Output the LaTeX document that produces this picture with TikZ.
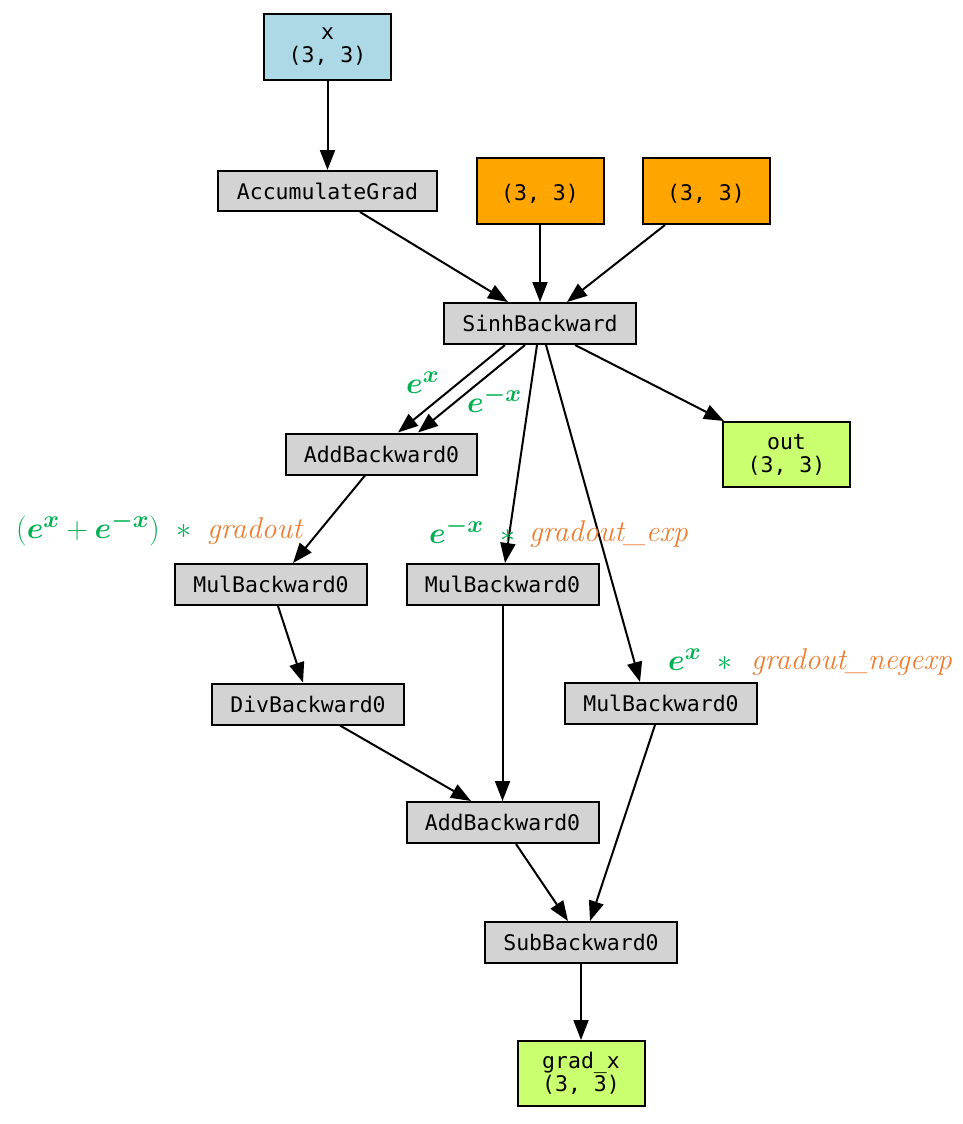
\RequirePackage{fix-cm}
\documentclass[tikz,border=0pt]{standalone}
\usepackage{fontspec}
\setmonofont{DejaVu Sans Mono}
\usepackage{amsmath}
\usepackage{bm}
\DeclareMathSizes{30}{30}{24}{18}
\usetikzlibrary{arrows.meta}
\definecolor{leafblue}{HTML}{ADD8E6}
\definecolor{constorange}{HTML}{FFA500}
\definecolor{fngray}{HTML}{D3D3D3}
\definecolor{outgreen}{HTML}{CAFF70}
\definecolor{lblgreen}{RGB}{0,176,80}
\definecolor{lblorange}{RGB}{237,125,49}
\tikzset{
  fnbox/.style={draw=black, line width=2pt, fill=fngray, inner sep=0pt,
    minimum width=192pt, minimum height=41pt, align=center,
    font=\ttfamily\fontsize{21.5}{23}\selectfont},
  tensorbox/.style={fnbox, minimum width=127pt, minimum height=65pt},
  edge/.style={line width=2pt, -{Triangle[length=20pt,width=15pt]}},
  mathlbl/.style={inner sep=0pt, anchor=base west, text=lblgreen,
    font=\fontsize{30}{32}\selectfont},
  gradlbl/.style={inner sep=0pt, anchor=base west, text=lblorange,
    font=\fontsize{30}{32}\selectfont\itshape},
}
\begin{document}
\begin{tikzpicture}[x=1pt,y=-1pt]
\useasboundingbox (0,0) rectangle (963,1124);

% tensors
\node[tensorbox, fill=leafblue] (x) at (327.5,47) {x\\(3, 3)};
\node[tensorbox, fill=constorange, minimum height=66pt] (c1) at (540,191) {\mbox{}\\(3, 3)};
\node[tensorbox, fill=constorange, minimum height=66pt] (c2) at (706,191) {\mbox{}\\(3, 3)};
\node[tensorbox, fill=outgreen] (out) at (786.5,454.5) {out\\(3, 3)};
\node[tensorbox, fill=outgreen] (gx) at (581,1073.5) {grad\_x\\(3, 3)};

% autograd functions
\node[fnbox, minimum width=219pt, minimum height=40pt] (acc) at (327.5,191) {AccumulateGrad};
\node[fnbox] (sinh) at (540,323.5) {SinhBackward};
\node[fnbox, minimum width=191pt] (addA) at (381.5,454) {AddBackward0};
\node[fnbox] (mulL) at (271,584.5) {MulBackward0};
\node[fnbox] (mulM) at (502.5,584.5) {MulBackward0};
\node[fnbox] (div) at (308,704) {DivBackward0};
\node[fnbox] (mulR) at (661,703.5) {MulBackward0};
\node[fnbox] (addB) at (502.5,822.5) {AddBackward0};
\node[fnbox] (sub) at (581,942.5) {SubBackward0};

% edges
\draw[edge] (x.south) -- (x.south |- acc.north);
\draw[edge] ([xshift=32.5pt]acc.south) -- ([xshift=-32pt]sinh.north);
\draw[edge] (c1.south) -- (c1.south |- sinh.north);
\draw[edge] ([xshift=-41pt]c2.south) -- ([xshift=27pt]sinh.north);
\draw[edge] ([xshift=-35pt]sinh.south) -- ([xshift=16.5pt]addA.north);
\draw[edge] ([xshift=-15pt]sinh.south) -- ([xshift=36.5pt]addA.north);
\draw[edge] ([xshift=-3pt]sinh.south) -- ([xshift=2.5pt]mulM.north);
\draw[edge] ([xshift=6pt]sinh.south) -- ([xshift=-21pt]mulR.north);
\draw[edge] ([xshift=35pt]sinh.south) -- ([xshift=2pt]out.north west);
\draw[edge] ([xshift=-16.5pt]addA.south) -- ([xshift=22pt]mulL.north);
\draw[edge] ([xshift=7pt]mulL.south) -- ([xshift=-5pt]div.north);
\draw[edge] ([xshift=32pt]div.south) -- ([xshift=-31.5pt]addB.north);
\draw[edge] (mulM.south) -- (mulM.south |- addB.north);
\draw[edge] ([xshift=-6pt]mulR.south) -- ([xshift=9pt]sub.north);
\draw[edge] ([xshift=13.5pt]addB.south) -- ([xshift=-13pt]sub.north);
\draw[edge] (sub.south) -- (sub.south |- gx.north);

% gradient annotations
\node[mathlbl] (ex) at (406,393) {$\bm{e^{x}}$};
\node[mathlbl] (emx) at (467,412) {$\bm{e^{-x}}$};
\node[mathlbl] (gLm) at (16,538) {$(\bm{e^{x}}+\bm{e^{-x}})\;\;\ast$};
\node[gradlbl] (gLg) at (207,538) {gradout};
\node[mathlbl] (gMm) at (429,543) {$\bm{e^{-x}}\;\;\ast$};
\node[gradlbl] (gMg) at (529,541) {gradout\_exp};
\node[mathlbl] (gRm) at (668,670) {$\bm{e^{x}}\;\;\ast$};
\node[gradlbl] (gRg) at (751,669) {gradout\_negexp};
\end{tikzpicture}
\end{document}
